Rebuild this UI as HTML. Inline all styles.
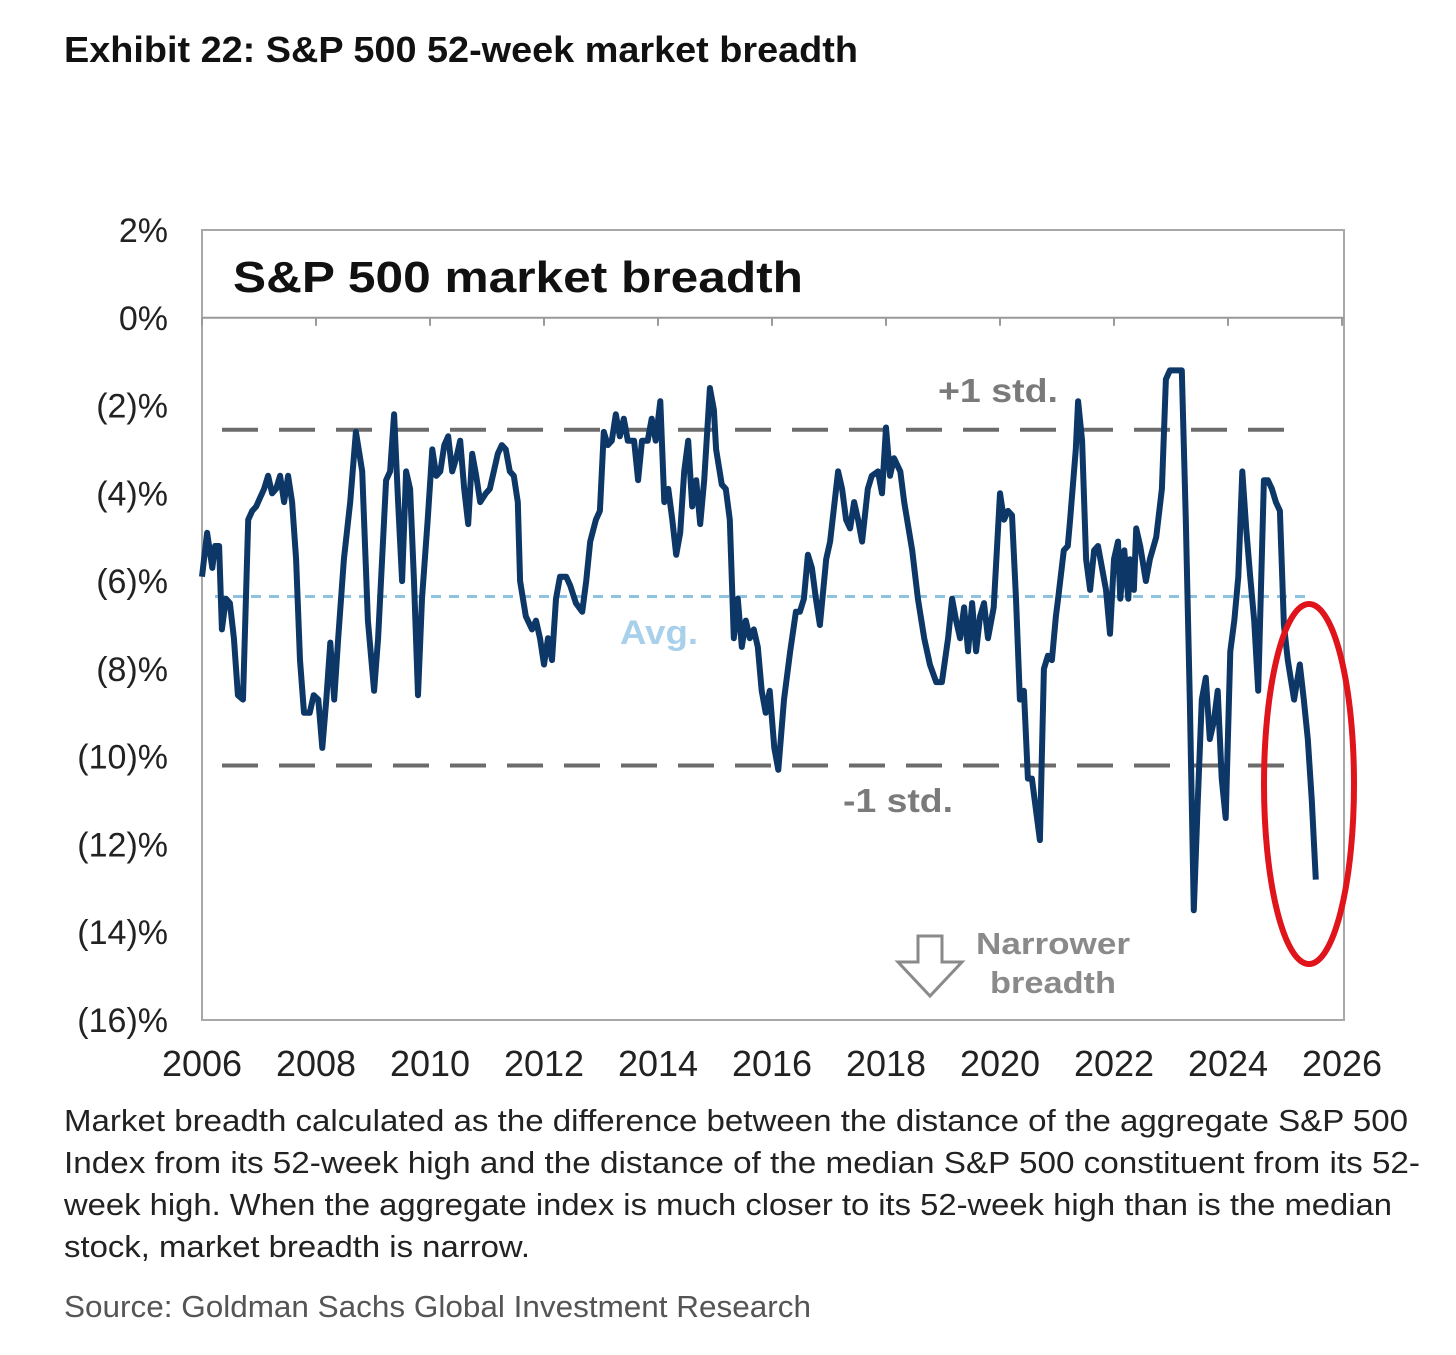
<!DOCTYPE html>
<html><head><meta charset="utf-8"><style>
body{margin:0;background:#fff;width:1456px;height:1355px;overflow:hidden;font-family:"Liberation Sans",sans-serif}
</style></head><body>
<svg id="chart" width="1456" height="1355" style="position:absolute;left:0;top:0" xmlns="http://www.w3.org/2000/svg">
<text x="64" y="62" font-size="36" font-weight="bold" fill="#111" textLength="794" lengthAdjust="spacingAndGlyphs">Exhibit 22: S&amp;P 500 52-week market breadth</text>
<g font-size="31" fill="#222">
<text x="64" y="1131" textLength="1344" lengthAdjust="spacingAndGlyphs">Market breadth calculated as the difference between the distance of the aggregate S&amp;P 500</text>
<text x="64" y="1173" textLength="1356" lengthAdjust="spacingAndGlyphs">Index from its 52-week high and the distance of the median S&amp;P 500 constituent from its 52-</text>
<text x="64" y="1215" textLength="1328" lengthAdjust="spacingAndGlyphs">week high. When the aggregate index is much closer to its 52-week high than is the median</text>
<text x="64" y="1257" textLength="466" lengthAdjust="spacingAndGlyphs">stock, market breadth is narrow.</text>
</g>
<text x="64" y="1317" font-size="31" fill="#555" textLength="747" lengthAdjust="spacingAndGlyphs">Source: Goldman Sachs Global Investment Research</text>
</svg>
<script>
const dates=[2006.00,2006.09,2006.18,2006.23,2006.30,2006.35,2006.42,2006.49,2006.56,2006.63,2006.72,2006.81,2006.88,2006.95,2007.02,2007.09,2007.16,2007.23,2007.30,2007.37,2007.44,2007.51,2007.58,2007.65,2007.72,2007.79,2007.89,2007.96,2008.04,2008.11,2008.18,2008.25,2008.32,2008.39,2008.49,2008.60,2008.70,2008.81,2008.91,2009.02,2009.09,2009.16,2009.23,2009.30,2009.37,2009.44,2009.51,2009.58,2009.65,2009.72,2009.79,2009.86,2009.96,2010.04,2010.11,2010.18,2010.25,2010.32,2010.39,2010.46,2010.53,2010.60,2010.67,2010.74,2010.81,2010.88,2010.98,2011.05,2011.12,2011.19,2011.26,2011.33,2011.40,2011.47,2011.54,2011.58,2011.68,2011.79,2011.86,2011.93,2012.00,2012.07,2012.14,2012.21,2012.28,2012.39,2012.46,2012.56,2012.67,2012.74,2012.81,2012.91,2012.98,2013.05,2013.12,2013.19,2013.26,2013.33,2013.40,2013.47,2013.58,2013.65,2013.72,2013.82,2013.89,2013.96,2014.04,2014.11,2014.18,2014.25,2014.32,2014.39,2014.46,2014.53,2014.60,2014.67,2014.74,2014.81,2014.91,2014.98,2015.02,2015.12,2015.19,2015.26,2015.33,2015.40,2015.47,2015.54,2015.61,2015.68,2015.75,2015.82,2015.89,2015.96,2016.04,2016.11,2016.21,2016.32,2016.42,2016.49,2016.56,2016.63,2016.70,2016.77,2016.84,2016.95,2017.02,2017.09,2017.16,2017.23,2017.30,2017.37,2017.44,2017.51,2017.58,2017.68,2017.75,2017.86,2017.93,2018.00,2018.07,2018.14,2018.25,2018.32,2018.46,2018.56,2018.67,2018.77,2018.88,2018.98,2019.09,2019.16,2019.23,2019.30,2019.37,2019.44,2019.51,2019.58,2019.65,2019.72,2019.79,2019.89,2020.00,2020.07,2020.14,2020.21,2020.28,2020.35,2020.42,2020.49,2020.56,2020.63,2020.70,2020.77,2020.84,2020.91,2020.98,2021.02,2021.12,2021.19,2021.23,2021.33,2021.37,2021.44,2021.51,2021.58,2021.65,2021.72,2021.79,2021.86,2021.93,2022.00,2022.07,2022.11,2022.18,2022.25,2022.28,2022.35,2022.39,2022.46,2022.56,2022.63,2022.74,2022.84,2022.91,2022.98,2023.12,2023.19,2023.26,2023.33,2023.40,2023.47,2023.54,2023.61,2023.68,2023.75,2023.82,2023.89,2023.96,2024.04,2024.11,2024.18,2024.25,2024.32,2024.39,2024.46,2024.53,2024.63,2024.70,2024.77,2024.84,2024.91,2024.98,2025.05,2025.16,2025.26,2025.33,2025.40,2025.47,2025.54];
const values=[-5.9,-4.9,-5.7,-5.2,-5.2,-7.1,-6.4,-6.5,-7.3,-8.6,-8.7,-4.6,-4.4,-4.3,-4.1,-3.9,-3.6,-4.0,-3.9,-3.6,-4.2,-3.6,-4.2,-5.5,-7.8,-9.0,-9.0,-8.6,-8.7,-9.8,-8.7,-7.4,-8.7,-7.3,-5.5,-4.2,-2.6,-3.5,-6.9,-8.5,-7.3,-5.5,-3.7,-3.5,-2.2,-4.2,-6.0,-3.5,-3.9,-6.0,-8.6,-6.4,-4.6,-3.0,-3.6,-3.5,-2.9,-2.7,-3.5,-3.2,-2.8,-3.9,-4.7,-3.1,-3.6,-4.2,-4.0,-3.9,-3.5,-3.1,-2.9,-3.0,-3.5,-3.6,-4.2,-6.0,-6.8,-7.1,-6.9,-7.3,-7.9,-7.3,-7.8,-6.4,-5.9,-5.9,-6.1,-6.5,-6.7,-6.0,-5.1,-4.6,-4.4,-2.6,-2.9,-2.8,-2.2,-2.7,-2.3,-2.8,-2.8,-3.7,-2.8,-2.8,-2.3,-2.8,-1.9,-4.2,-3.9,-4.6,-5.4,-4.9,-3.5,-2.8,-4.3,-3.7,-4.7,-3.7,-1.6,-2.1,-3.0,-3.8,-3.9,-4.6,-7.3,-6.4,-7.5,-6.9,-7.3,-7.1,-7.5,-8.5,-9.0,-8.5,-9.8,-10.3,-8.7,-7.6,-6.7,-6.7,-6.4,-5.4,-5.7,-6.4,-7.0,-5.5,-5.1,-4.3,-3.5,-3.9,-4.6,-4.8,-4.2,-4.6,-5.1,-3.9,-3.6,-3.5,-4.0,-2.5,-3.6,-3.2,-3.5,-4.2,-5.3,-6.4,-7.3,-7.9,-8.3,-8.3,-7.3,-6.4,-6.9,-7.3,-6.6,-7.6,-6.5,-7.6,-6.8,-6.5,-7.3,-6.6,-4.0,-4.6,-4.4,-4.5,-6.4,-8.7,-8.5,-10.5,-10.5,-11.2,-11.9,-8.0,-7.7,-7.8,-6.8,-6.4,-5.3,-5.2,-4.6,-3.0,-1.9,-2.8,-5.5,-6.2,-5.3,-5.2,-5.7,-6.2,-7.2,-5.5,-5.1,-6.4,-5.3,-6.4,-5.5,-6.2,-4.8,-5.2,-6.0,-5.5,-5.0,-3.9,-1.4,-1.2,-1.2,-1.2,-4.6,-8.7,-13.5,-11.0,-8.7,-8.2,-9.6,-9.2,-8.5,-10.5,-11.4,-7.6,-6.9,-5.9,-3.5,-4.8,-5.9,-6.9,-8.5,-3.7,-3.7,-3.9,-4.2,-4.4,-7.0,-7.8,-8.7,-7.9,-8.7,-9.6,-11.0,-12.8];
const yTicks=[2,0,-2,-4,-6,-8,-10,-12,-14,-16];
const yTickLabels=["2%","0%","(2)%","(4)%","(6)%","(8)%","(10)%","(12)%","(14)%","(16)%"];
const xTicks=[2006,2008,2010,2012,2014,2016,2018,2020,2022,2024,2026];
const avgValue=-6.35, plusStd=-2.55, minusStd=-10.2;

const NS="http://www.w3.org/2000/svg", svg=document.getElementById('chart');
const L=202,R=1344,T=230,B=1020;
const xs=y=>L+(y-2006)/(2026-2006)*(1342-L);
const ys=v=>T+(2-v)/18*(B-T);
function mk(tag,attrs,parent){const e=document.createElementNS(NS,tag);for(const k in attrs)e.setAttribute(k,attrs[k]);(parent||svg).appendChild(e);return e;}

let e=mk('rect',{x:L,y:T,width:R-L,height:B-T,fill:'none',stroke:'#a8a8a8','stroke-width':2});


e=mk('line',{x1:L,x2:R,y1:ys(0),y2:ys(0),stroke:'#999','stroke-width':2});


xTicks.forEach(t=>{
  const tk=mk('line',{x1:xs(t),x2:xs(t),y1:ys(0),y2:ys(0)+8,stroke:'#999','stroke-width':2});
  
  
  const lb=mk('text',{x:xs(t),y:1076,'text-anchor':'middle','font-size':36,fill:'#222'});
  lb.textContent=t;
  
  
});
yTicks.forEach((v,i)=>{
  const lb=mk('text',{x:168,y:ys(v)+12,'text-anchor':'end','font-size':34,fill:'#222'});
  lb.textContent=yTickLabels[i];
  
  
});
e=mk('text',{x:233,y:292,'font-size':44,'font-weight':'bold',fill:'#111',textLength:570,lengthAdjust:'spacingAndGlyphs'});
e.textContent='S&P 500 market breadth';



e=mk('line',{x1:215,x2:1310,y1:ys(avgValue),y2:ys(avgValue),stroke:'#8ec2df','stroke-width':3,'stroke-dasharray':'10 8'});


[[plusStd,'plus-std-line'],[minusStd,'minus-std-line']].forEach(p=>{
  const l=mk('line',{x1:222,x2:1300,y1:ys(p[0]),y2:ys(p[0]),stroke:'#6b6b6b','stroke-width':4,'stroke-dasharray':'36 21'});
  
  
});
e=mk('polyline',{points:dates.map((d,i)=>xs(d).toFixed(1)+','+ys(values[i]).toFixed(1)).join(' '),fill:'none',stroke:'#0c3766','stroke-width':6,'stroke-linejoin':'round'});



e=mk('text',{x:938,y:402,'font-size':33,'font-weight':'bold',fill:'#7a7a7a',textLength:120,lengthAdjust:'spacingAndGlyphs'});e.textContent='+1 std.';


e=mk('text',{x:843,y:812,'font-size':33,'font-weight':'bold',fill:'#7a7a7a',textLength:110,lengthAdjust:'spacingAndGlyphs'});e.textContent='-1 std.';


e=mk('text',{x:620,y:644,'font-size':34,'font-weight':'bold',fill:'#a8d0ea',textLength:78,lengthAdjust:'spacingAndGlyphs'});e.textContent='Avg.';


e=mk('polygon',{points:'918,936 942,936 942,962 962,962 930,996 898,962 918,962',fill:'#fff',stroke:'#8a8a8a','stroke-width':3});


e=mk('text',{x:1053,y:954,'text-anchor':'middle','font-size':31,'font-weight':'bold',fill:'#8a8a8a',textLength:154,lengthAdjust:'spacingAndGlyphs'});e.textContent='Narrower';


e=mk('text',{x:1053,y:993,'text-anchor':'middle','font-size':31,'font-weight':'bold',fill:'#8a8a8a',textLength:126,lengthAdjust:'spacingAndGlyphs'});e.textContent='breadth';


e=mk('ellipse',{cx:1309,cy:784,rx:45,ry:180,fill:'none',stroke:'#e0141b','stroke-width':6});


</script>
</body></html>
